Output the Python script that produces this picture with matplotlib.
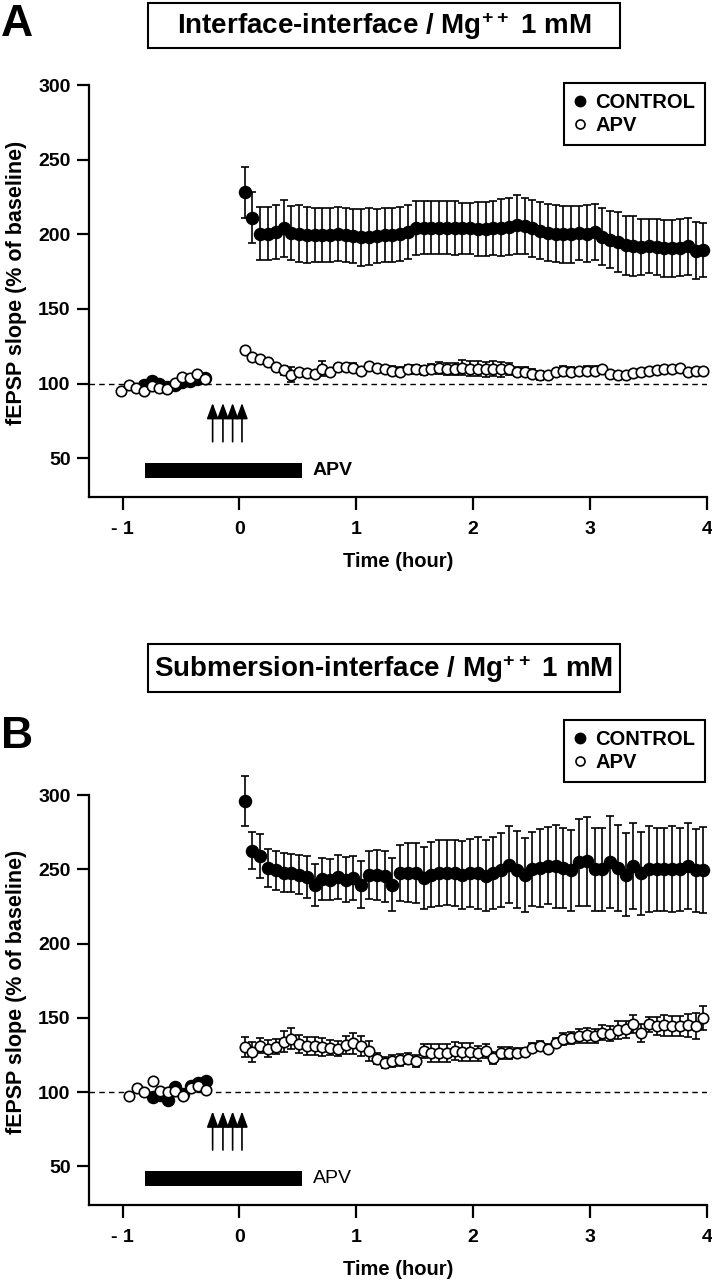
import numpy as np
import matplotlib
matplotlib.use('Agg')
import matplotlib.pyplot as plt
from matplotlib.lines import Line2D
from matplotlib.patches import Rectangle

plt.rcParams['font.family'] = ['Liberation Sans', 'DejaVu Sans']
plt.rcParams['font.weight'] = 'bold'
plt.rcParams['mathtext.fontset'] = 'custom'
plt.rcParams['mathtext.bf'] = 'Liberation Sans:bold'
plt.rcParams['mathtext.rm'] = 'Liberation Sans:bold'
plt.rcParams['mathtext.default'] = 'bf'

# ---------------- data ----------------
post_t = [round(0.045 + 0.0665 * k, 3) for k in range(60)]  # sampling times after tetanus (h)

# Panel A : Interface-interface
a_base_t_ctl = [-0.816, -0.751, -0.686, -0.623, -0.555, -0.492, -0.424, -0.361, -0.293]
a_base_ctl = [99, 102, 100, 98, 99, 101, 102, 103, 104]
a_base_t_apv = [-1.015, -0.944, -0.885, -0.816, -0.751, -0.686, -0.623, -0.555, -0.492, -0.424, -0.361, -0.293]
a_base_apv = [94.7, 99.1, 96.9, 95.1, 98.5, 96.9, 96.5, 100.7, 104.7, 104.0, 106.3, 102.9]

a_ctl = [228, 211, 200.5, 200.5, 201.5, 204, 201, 200.5, 199.5, 199.5,
         199.5, 199.5, 200, 199.5, 199, 198, 198.5, 199, 199.5, 199.5,
         200, 201.5, 204, 204.5, 204.5, 204.5, 204.5, 204, 204, 204,
         203.5, 203.5, 204, 204.5, 205, 206.5, 205.5, 204, 202.5, 201,
         200.5, 200, 200, 201, 200.5, 201.5, 198.5, 196.5, 195, 192.5,
         192, 191.5, 192, 191.5, 190.5, 190.5, 191, 192, 189, 189.5]
a_ctl_err = [17, 17, 18, 18, 18, 19, 18, 19, 19, 18,
             18, 18, 18, 18, 18, 19, 19, 18, 18, 18,
             18, 18, 18, 18, 18, 18, 18, 18, 17, 17,
             18, 18, 18, 19, 19, 20, 19, 19, 19, 19,
             19, 19, 19, 18, 19, 19, 19, 19, 20, 20,
             20, 19, 18, 19, 19, 19, 19, 19, 19, 18]
a_apv = [122.5, 118, 116.5, 114.5, 111, 109, 106, 108, 107, 106.5,
         110, 108, 111, 111, 110.5, 108.5, 111.5, 110.5, 109.5, 108.5,
         108, 109.5, 109.5, 109, 110, 110.5, 110, 110, 110.5, 110,
         110, 109.5, 110, 109.5, 109.5, 108, 108, 106.5, 105.5, 106,
         108, 108.5, 108, 108.5, 108.5, 108.5, 109.5, 106.5, 105.8, 106,
         107, 108, 108.5, 108.8, 109.5, 110, 110.5, 107.5, 108.5, 108.5]
a_apv_err = [2, 2, 2, 2, 2, 3, 5, 2, 2, 2,
             5, 2, 2, 2, 3, 2, 2, 2, 2, 3,
             3, 3, 3, 3, 3, 4, 4, 4, 5, 5,
             5, 5, 5, 5, 4, 3, 3, 3, 3, 2,
             2, 3, 3, 2, 3, 3, 2, 2, 2, 2,
             2, 2, 2, 2, 2, 2, 2, 2, 2, 2]

# Panel B : Submersion-interface
b_base_t_ctl = [-0.74, -0.68, -0.61, -0.55, -0.485, -0.415, -0.353, -0.286]
b_base_ctl = [96.5, 98, 94.5, 103.5, 99, 104, 106, 107.5]
b_base_t_apv = [-0.948, -0.874, -0.812, -0.738, -0.679, -0.61, -0.551, -0.485, -0.415, -0.353, -0.286]
b_base_apv = [97.5, 102.5, 100.2, 107.6, 100.9, 100.2, 100.9, 97.5, 102.5, 103.8, 101.6]

b_ctl = [296, 262.5, 259, 250.8, 249.2, 247.8, 247.4, 246.3, 244.8, 239.6,
         243.5, 243, 244.8, 243, 244, 239.6, 246.3, 246.3, 245.2, 239.6,
         247.4, 247.8, 247.4, 244, 246.3, 247.4, 247.8, 247.4, 246.3, 247.4,
         247.4, 245.6, 247.4, 249.6, 253, 249.6, 246.3, 250, 250.8, 252.4,
         252, 250.8, 249.2, 254.6, 255.3, 250, 250, 254.6, 250.8, 246.3,
         252, 247.4, 250, 250, 250, 250, 250, 252, 249.2, 249.6]
b_ctl_err = [17, 12.5, 15, 13, 13, 13, 13, 13, 14, 14,
             14, 14, 15, 15, 15, 16, 16, 17, 17, 18,
             19, 20, 20, 21, 22, 22, 22, 22, 23, 23,
             24, 24, 24, 25, 26, 26, 25, 25, 26, 26,
             28, 27, 27, 29, 30, 28, 28, 31, 29, 28,
             29, 28, 29, 28, 28, 29, 28, 29, 28, 29]
b_apv = [130.4, 127, 131.1, 129.3, 130.6, 133.8, 136, 132.2, 131.1, 131.1,
         130.6, 129.9, 129.3, 131.5, 132.9, 131.1, 127.7, 122.6, 119.9, 121,
         121.7, 122.6, 121, 127.7, 126.6, 126.1, 126.6, 127.7, 127, 127,
         126.1, 127.7, 123.2, 126.1, 126.1, 126.6, 127, 129.9, 131.1, 129.3,
         133.3, 135.6, 136.7, 137.8, 138.3, 137.8, 140, 139.3, 141.8, 142.2,
         145.6, 140, 145.6, 144.5, 144.9, 144.5, 144.5, 144.9, 144.5, 150.1]
b_apv_err = [7, 7, 5, 6, 5, 7, 7, 6, 6, 6,
             6, 5, 5, 6, 7, 7, 7, 4, 4, 4,
             4, 4, 4, 5, 6, 6, 6, 6, 6, 6,
             5, 5, 4, 4, 4, 3, 3, 3, 3, 3,
             3, 4, 4, 5, 5, 5, 5, 5, 6, 6,
             6, 6, 5, 6, 7, 7, 7, 8, 9, 8]

tetanus_t = [-0.229, -0.141, -0.058, 0.022]
apv_bar = (-0.81, 0.535)
x_ticks = [-1, 0, 1, 2, 3, 4]
x_ticklabels = ['- 1', '0', '1', '2', '3', '4']
y_ticks = [50, 100, 150, 200, 250, 300]
titles = ['Interface-interface / Mg$^{++}$ 1 mM', 'Submersion-interface / Mg$^{++}$ 1 mM']
legend_labels = ['CONTROL', 'APV']

# ---------------- figure ----------------
W, H = 712, 1280
fig = plt.figure(figsize=(W / 100, H / 100), dpi=100)


def px_ax(l, t, r, b):
    return [l / W, 1 - b / H, (r - l) / W, (b - t) / H]


def draw_panel(ax, top_px, bot_px, leg_top_px, bt_c, bc, bt_a, ba, ctl, ctl_e, apv, apv_e, apv_weight):
    ax.set_xlim(-1.29, 4.0)
    ax.set_ylim(24, 300)
    ax.axhline(100, color='k', lw=1.0, ls=(0, (4, 3)), zorder=1)
    t_c = list(bt_c) + post_t
    v_c = list(bc) + ctl
    e_c = [0] * len(bt_c) + ctl_e
    t_a = list(bt_a) + post_t
    v_a = list(ba) + apv
    e_a = [0] * len(bt_a) + apv_e
    for t, v, e, fc, ms, z in [(t_c, v_c, e_c, 'k', 8.5, 3), (t_a, v_a, e_a, 'white', 7.5, 4)]:
        cont = ax.errorbar(t, v, yerr=e, fmt='o', ms=ms, mfc=fc, mec='k', mew=1.2,
                           ecolor='k', elinewidth=1.2, capsize=3, capthick=1.2, zorder=z)
        for art in cont.get_children():
            art.set_clip_on(False)
    # APV application bar
    ax.barh(42, apv_bar[1] - apv_bar[0], left=apv_bar[0], height=10, color='k', zorder=2)
    ax.text(apv_bar[1] + 0.09, 42, 'APV', va='center', ha='left', fontsize=14,
            fontweight=apv_weight)
    # tetanus arrows
    for t in tetanus_t:
        ax.annotate('', xy=(t, 87), xytext=(t, 61),
                    arrowprops=dict(arrowstyle='-|>,head_length=0.95,head_width=0.35',
                                    color='k', lw=1.2, shrinkA=0, shrinkB=0, mutation_scale=10))
    ax.spines[['top', 'right']].set_visible(False)
    for s in ('left', 'bottom'):
        ax.spines[s].set_linewidth(1.6)
    ax.set_xticks(x_ticks)
    ax.set_xticklabels(x_ticklabels)
    ax.set_yticks(y_ticks)
    ax.tick_params(direction='out', length=9, width=1.6, labelsize=14)
    ax.tick_params(axis='x', pad=8)
    ax.tick_params(axis='y', pad=4)
    ax.set_ylabel('fEPSP slope (% of baseline)', fontsize=15.5, fontweight='bold')
    ax.yaxis.set_label_coords(27 / W, 1 - ((top_px + bot_px) / 2 - 8) / H, transform=fig.transFigure)
    ax.set_xlabel('Time (hour)', fontsize=14.5, fontweight='bold')
    ax.xaxis.set_label_coords(398 / W, 1 - (bot_px + 55) / H, transform=fig.transFigure)
    handles = [Line2D([], [], ls='none', marker='o', ms=7.5, mfc='k', mec='k'),
               Line2D([], [], ls='none', marker='o', ms=6.5, mfc='white', mec='k', mew=1.2)]
    leg = ax.legend(handles, legend_labels, loc='upper right',
                    bbox_to_anchor=(705 / W, 1 - leg_top_px / H), bbox_transform=fig.transFigure,
                    frameon=True, fancybox=False, framealpha=1, edgecolor='k',
                    prop={'weight': 'bold', 'size': 14.5}, borderpad=0.5, labelspacing=0.2,
                    handlelength=0.6, handletextpad=0.45, borderaxespad=0)
    leg.get_frame().set_linewidth(1.5)


axA = fig.add_axes(px_ax(88.6, 85, 707, 497))
draw_panel(axA, 85, 497, 83, a_base_t_ctl, a_base_ctl, a_base_t_apv, a_base_apv,
           a_ctl, a_ctl_err, a_apv, a_apv_err, 'bold')
axB = fig.add_axes(px_ax(88.6, 795, 707, 1205))
draw_panel(axB, 795, 1205, 720, b_base_t_ctl, b_base_ctl, b_base_t_apv, b_base_apv,
           b_ctl, b_ctl_err, b_apv, b_apv_err, 'normal')

# title boxes and panel letters
for (top, bot), title in zip([(3, 48), (644, 692)], titles):
    fig.add_artist(Rectangle((148 / W, 1 - bot / H), (620 - 148) / W, (bot - top) / H,
                             transform=fig.transFigure, fill=False, ec='k', lw=1.5))
    fig.text(384 / W, 1 - ((top + bot) / 2 + 1) / H, title, ha='center', va='center',
             fontsize=20, fontweight='bold')

for letter, ytop in [('A', 4), ('B', 716)]:
    fig.text(1 / W, 1 - ytop / H, letter, ha='left', va='top', fontsize=32,
             fontweight='bold')

fig.savefig('out.png', dpi=100)
